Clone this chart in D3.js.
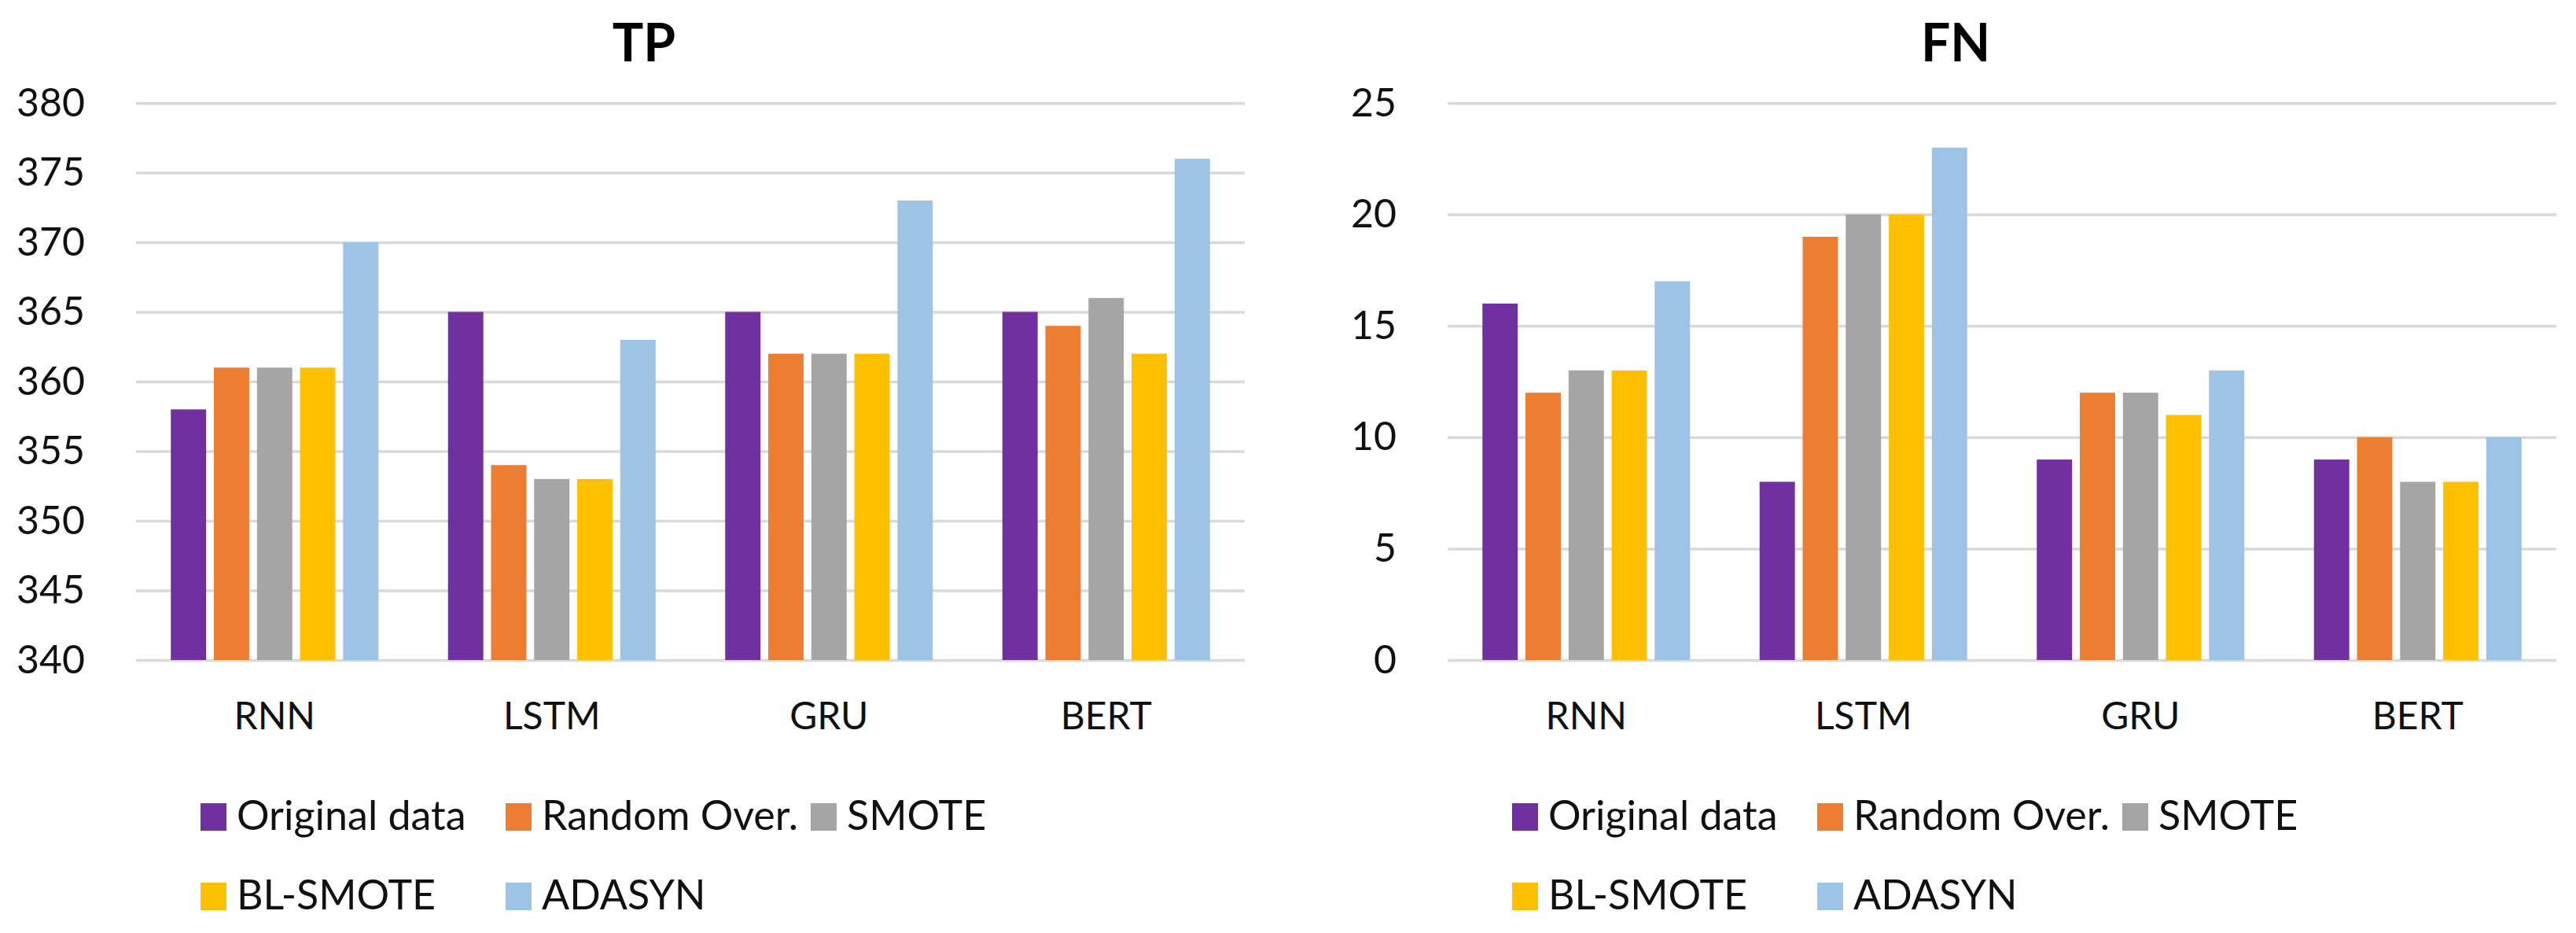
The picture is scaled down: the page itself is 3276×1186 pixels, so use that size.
<!DOCTYPE html>
<html>
<head>
<meta charset="utf-8">
<title>TP / FN</title>
<script src="https://cdn.jsdelivr.net/npm/d3@7"></script>
<style>
  body { margin: 0; background: #fff; }
  svg { display: block; font-family: Lato, "Open Sans", sans-serif; }
</style>
</head>
<body>
<svg id="chart" width="3276" height="1186"></svg>
<script>
const categories = ["RNN", "LSTM", "GRU", "BERT"];
const seriesNames = ["Original data", "Random Over.", "SMOTE", "BL-SMOTE", "ADASYN"];

// TP values per series, in category order
const tpOriginal = [358, 365, 365, 365];
const tpRandom   = [361, 354, 362, 364];
const tpSmote    = [361, 353, 362, 366];
const tpBlSmote  = [361, 353, 362, 362];
const tpAdasyn   = [370, 363, 373, 376];

// FN values per series
const fnOriginal = [16, 8, 9, 9];
const fnRandom   = [12, 19, 12, 10];
const fnSmote    = [13, 20, 12, 8];
const fnBlSmote  = [13, 20, 11, 8];
const fnAdasyn   = [17, 23, 13, 10];

const tpTicks = [340, 345, 350, 355, 360, 365, 370, 375, 380];
const fnTicks = [0, 5, 10, 15, 20, 25];

const colors = ["#7030a0", "#ed7d31", "#a5a5a5", "#ffc000", "#9dc3e6"];

const plotW = 1410, plotTop = 131, plotBottom = 839;
const svg = d3.select("#chart");

function drawChart(left, title, seriesVals, ticks) {
    const g = svg.append("g").attr("transform", `translate(${left},0)`);

    const y = d3.scaleLinear()
        .domain([ticks[0], ticks[ticks.length - 1]])
        .range([plotBottom, plotTop]);

    const x0 = d3.scaleBand().domain(categories).range([0, plotW]);
    const groupW = 264;
    const x1 = d3.scaleBand()
        .domain(seriesNames)
        .range([(x0.bandwidth() - groupW) / 2, (x0.bandwidth() + groupW) / 2])
        .paddingInner(0.18);

    // gridlines + y labels
    const yAxis = g.append("g")
        .call(d3.axisLeft(y).tickValues(ticks).tickSize(-plotW).tickPadding(65));
    yAxis.select(".domain").remove();
    yAxis.selectAll("line").attr("stroke", "#d9d9d9").attr("stroke-width", 3.5);
    yAxis.selectAll("text")
        .attr("font-size", 50).attr("fill", "#111").attr("font-family", "Lato");

    // bars
    const rows = categories.map((c, i) => ({ cat: c, vals: seriesVals.map(s => s[i]) }));
    g.selectAll(".grp")
        .data(rows)
        .enter().append("g")
        .attr("transform", d => `translate(${x0(d.cat)},0)`)
        .selectAll("rect")
        .data(d => d.vals.map((v, k) => ({ name: seriesNames[k], v: v, k: k })))
        .enter().append("rect")
        .attr("x", d => x1(d.name))
        .attr("width", x1.bandwidth())
        .attr("y", d => y(d.v))
        .attr("height", d => plotBottom - y(d.v))
        .attr("fill", d => colors[d.k]);

    // category labels
    const xAxis = g.append("g")
        .attr("transform", `translate(0,${plotBottom})`)
        .call(d3.axisBottom(x0).tickSize(0).tickPadding(54));
    xAxis.select(".domain").remove();
    xAxis.selectAll("text")
        .attr("font-size", 48).attr("fill", "#111").attr("font-family", "Lato");

    // title
    g.append("text")
        .attr("x", 646).attr("y", 78)
        .attr("text-anchor", "middle")
        .attr("font-size", 66).attr("font-weight", "bold")
        .attr("fill", "#000")
        .text(title);

    // legend
    const leg = g.append("g").attr("transform", "translate(82,0)");
    const item = leg.selectAll(".item")
        .data(seriesNames)
        .enter().append("g")
        .attr("transform", (d, i) => `translate(${(i % 3) * 388},${i < 3 ? 1038 : 1139})`);
    item.append("rect")
        .attr("x", 0).attr("y", -17).attr("width", 33).attr("height", 35)
        .attr("fill", (d, i) => colors[i]);
    item.append("text")
        .attr("x", 46).attr("y", 17)
        .attr("font-size", 52).attr("fill", "#111")
        .text(d => d);
}

drawChart(173, "TP", [tpOriginal, tpRandom, tpSmote, tpBlSmote, tpAdasyn], tpTicks);
drawChart(1841, "FN", [fnOriginal, fnRandom, fnSmote, fnBlSmote, fnAdasyn], fnTicks);
</script>
</body>
</html>
